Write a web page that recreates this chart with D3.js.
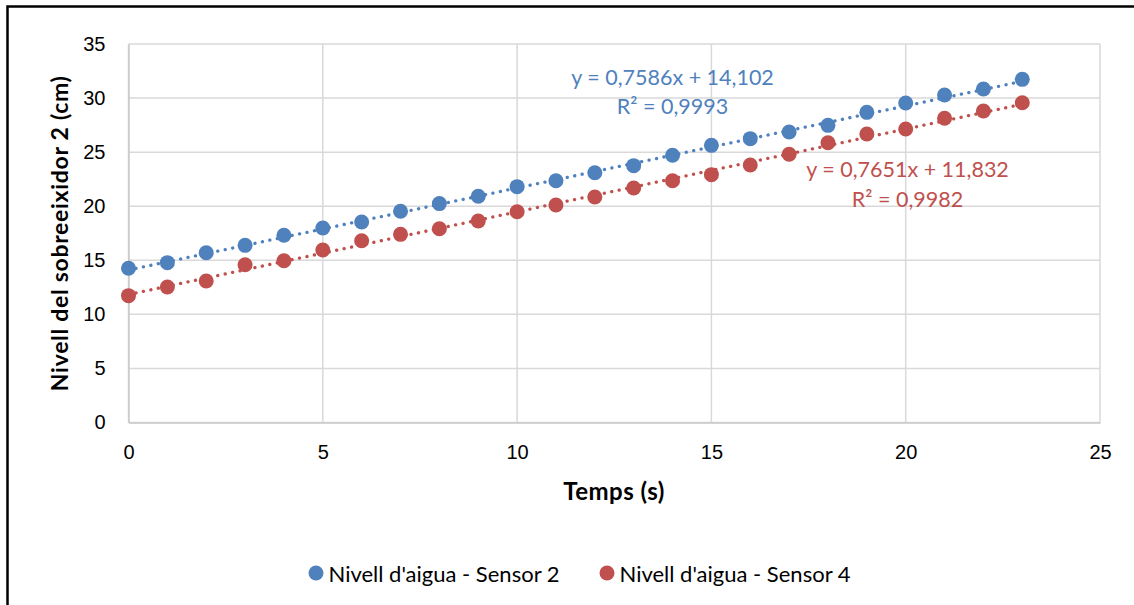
<!DOCTYPE html>
<html>
<head>
<meta charset="utf-8">
<script src="https://cdn.jsdelivr.net/npm/d3@7"></script>
<style>
  html, body { margin: 0; padding: 0; background: #fff; }
  svg { display: block; font-family: Lato, "Open Sans", sans-serif; }
</style>
</head>
<body>
<svg id="chart" width="1134" height="605"></svg>
<script>
// Time in seconds
const times = [0,1,2,3,4,5,6,7,8,9,10,11,12,13,14,15,16,17,18,19,20,21,22,23];
// Water level readings (cm)
const sensor2 = [14.26,14.78,15.70,16.38,17.31,17.99,18.54,19.53,20.24,20.92,21.81,22.36,23.10,23.75,24.71,25.63,26.25,26.86,27.48,28.68,29.55,30.28,30.84,31.73];
const sensor4 = [11.73,12.53,13.09,14.59,14.96,15.95,16.81,17.40,17.92,18.63,19.49,20.11,20.85,21.68,22.36,22.92,23.81,24.80,25.87,26.68,27.14,28.13,28.81,29.57];
// Linear trendline coefficients [slope, intercept] and R²
const fit2 = [0.7586, 14.102];
const fit4 = [0.7651, 11.832];
const r2Values = ["0,9993", "0,9982"];
const seriesNames = ["Nivell d'aigua - Sensor 2", "Nivell d'aigua - Sensor 4"];
const xTicks = [0,5,10,15,20,25];
const yTicks = [0,5,10,15,20,25,30,35];

const colors = ["#4F81BD", "#C0504D"];
const svg = d3.select("#chart");

// outer chart frame
svg.append("rect").attr("x", 7.5).attr("y", 6.5).attr("width", 1140).attr("height", 620)
  .attr("fill", "none").attr("stroke", "#000").attr("stroke-width", 2.5);

const x = d3.scaleLinear().domain([0, 25]).range([128.5, 1100]);
const y = d3.scaleLinear().domain([0, 35]).range([422.5, 44]);

// gridlines
const grid = svg.append("g");
grid.selectAll("line.h").data(yTicks).join("line")
  .attr("x1", x(0)).attr("x2", x(25))
  .attr("y1", d => y(d)).attr("y2", d => y(d))
  .attr("stroke", "#d9d9d9").attr("stroke-width", 1.5);
grid.selectAll("line.v").data(xTicks).join("line")
  .attr("y1", y(0)).attr("y2", y(35))
  .attr("x1", d => x(d)).attr("x2", d => x(d))
  .attr("stroke", "#d9d9d9").attr("stroke-width", 1.5);

// axes (labels only, lines handled by grid)
const xAxis = svg.append("g").attr("transform", `translate(0,${y(0)})`)
  .call(d3.axisBottom(x).tickValues(xTicks).tickSize(0).tickPadding(22));
xAxis.select(".domain").attr("stroke", "#c8c8c8").attr("stroke-width", 1.5);
xAxis.selectAll("text").attr("font-size", 20).attr("fill", "#000");

const yAxis = svg.append("g").attr("transform", `translate(${x(0)},0)`)
  .call(d3.axisLeft(y).tickValues(yTicks).tickSize(0).tickPadding(23));
yAxis.select(".domain").attr("stroke", "#c8c8c8").attr("stroke-width", 1.5);
yAxis.selectAll("text").attr("font-size", 20).attr("fill", "#000");

// axis titles
svg.append("text").attr("x", 614).attr("y", 500).attr("text-anchor", "middle")
  .attr("font-size", 24).attr("font-weight", "bold").attr("letter-spacing", 0.5)
  .text("Temps (s)");
svg.append("text").attr("transform", `translate(68,${y(17.5)}) rotate(-90)`)
  .attr("text-anchor", "middle").attr("font-size", 23).attr("font-weight", "bold")
  .attr("letter-spacing", 0.7)
  .text("Nivell del sobreeixidor 2 (cm)");

// trendlines
const fits = [fit2, fit4];
const line = d3.line().x(d => x(d[0])).y(d => y(d[1]));
fits.forEach((f, i) => {
  const ends = [times[0], times[times.length - 1]].map(t => [t, f[0] * t + f[1]]);
  svg.append("path").attr("d", line(ends)).attr("fill", "none")
    .attr("stroke", colors[i]).attr("stroke-width", 3.3)
    .attr("stroke-linecap", "round").attr("stroke-dasharray", "0.1 7.5");
});

// markers
[sensor2, sensor4].forEach((vals, i) => {
  svg.append("g").selectAll("circle").data(vals).join("circle")
    .attr("cx", (d, j) => x(times[j])).attr("cy", d => y(d))
    .attr("r", 7.5).attr("fill", colors[i]);
});

// trendline equations
const fmt = v => String(v).replace(".", ",");
const eqPos = [[672.5, 85, 114], [907.5, 177, 206.5]];
fits.forEach((f, i) => {
  const g = svg.append("g").attr("fill", colors[i]).attr("font-size", 21.5).attr("text-anchor", "middle");
  g.append("text").attr("x", eqPos[i][0]).attr("y", eqPos[i][1])
    .text(`y = ${fmt(f[0])}x + ${fmt(f[1])}`);
  g.append("text").attr("x", eqPos[i][0]).attr("y", eqPos[i][2])
    .text(`R² = ${r2Values[i]}`);
});

// legend
const legendX = [316, 607];
seriesNames.forEach((name, i) => {
  const g = svg.append("g").attr("transform", `translate(${legendX[i]},573)`);
  g.append("circle").attr("r", 7.5).attr("fill", colors[i]);
  g.append("text").attr("x", 12.5).attr("y", 8.5).attr("font-size", 22).text(name);
});
</script>
</body>
</html>
